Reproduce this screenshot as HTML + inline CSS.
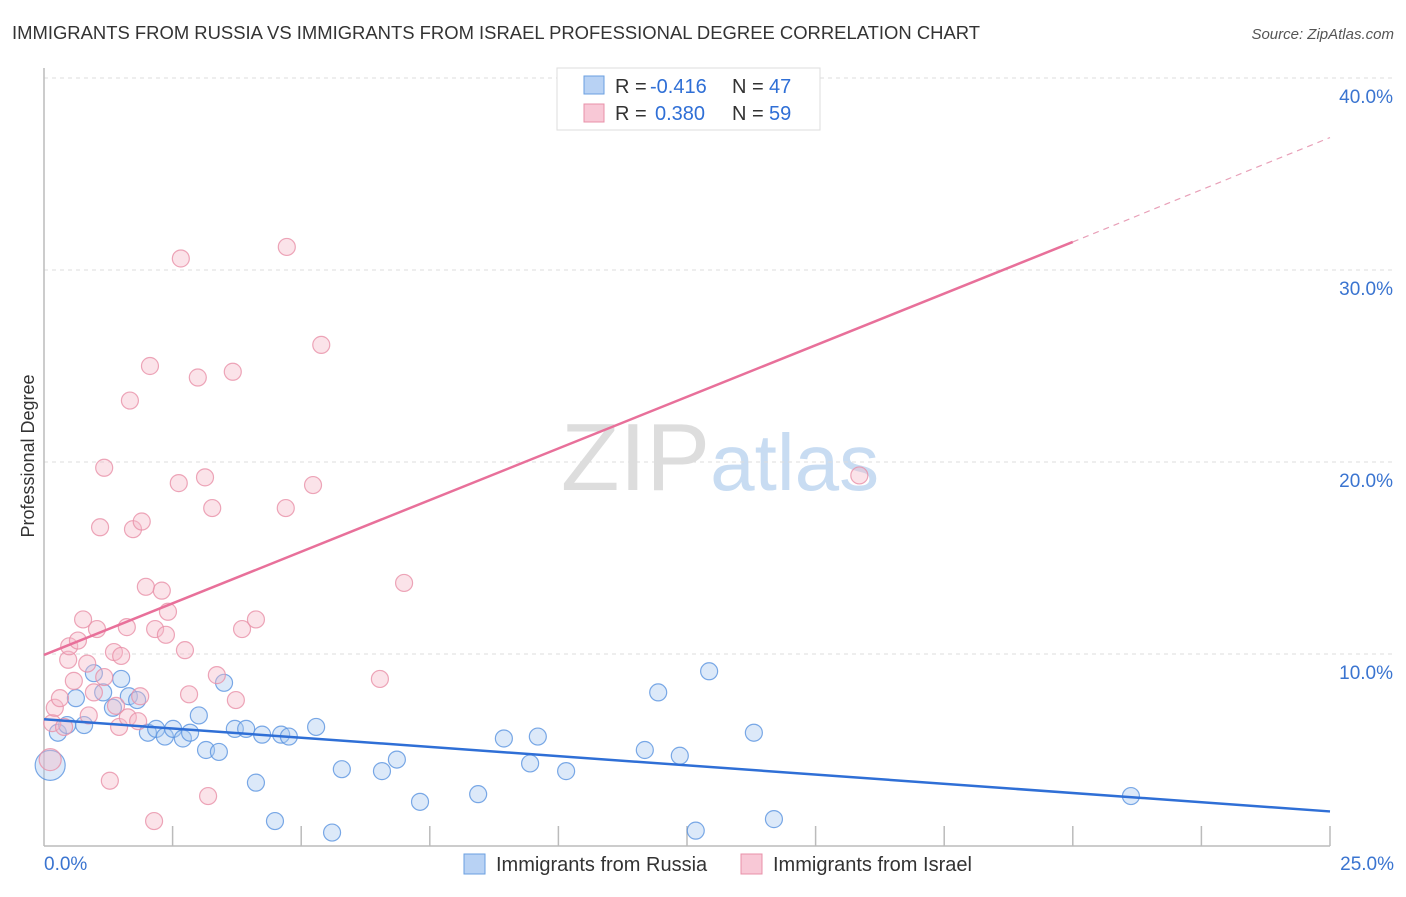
<!DOCTYPE html>
<html><head><meta charset="utf-8"><style>
body{margin:0;background:#fff;font-family:"Liberation Sans",sans-serif;}
svg text{font-family:"Liberation Sans",sans-serif;}
</style></head><body>
<svg id="c" width="1406" height="892">
<text x="12" y="39" font-size="18" fill="#333" textLength="968" lengthAdjust="spacingAndGlyphs">IMMIGRANTS FROM RUSSIA VS IMMIGRANTS FROM ISRAEL PROFESSIONAL DEGREE CORRELATION CHART</text>
<text x="1394" y="39" font-size="15" fill="#555" font-style="italic" text-anchor="end">Source: ZipAtlas.com</text>
<text x="34" y="456" font-size="18" fill="#333" transform="rotate(-90 34 456)" text-anchor="middle">Professional Degree</text>
<text x="720" y="490" font-size="96" fill="#ddd" text-anchor="middle" font-family="Liberation Serif">ZIP<tspan fill="#c8dcf2" font-family="Liberation Sans" font-size="80">atlas</tspan></text>
<g id="grid"></g><g id="pts"></g><g id="lines"></g>
<g>
<rect x="557" y="68" width="263" height="62" fill="#fff" stroke="#ddd"/>
<rect x="584" y="76" width="20" height="18" fill="#b8d2f4" stroke="#6a9fe0"/>
<rect x="584" y="104" width="20" height="18" fill="#f8c8d6" stroke="#e890a8"/>
<text x="615" y="93" font-size="20" fill="#333">R =</text>
<text x="650" y="93" font-size="20" fill="#2f6fd6">-0.416</text>
<text x="732" y="93" font-size="20" fill="#333">N =</text>
<text x="769" y="93" font-size="20" fill="#2f6fd6">47</text>
<text x="615" y="120" font-size="20" fill="#333">R =</text>
<text x="655" y="120" font-size="20" fill="#2f6fd6">0.380</text>
<text x="732" y="120" font-size="20" fill="#333">N =</text>
<text x="769" y="120" font-size="20" fill="#2f6fd6">59</text>
</g>
<g>
<rect x="464" y="854" width="21" height="20" fill="#b8d2f4" stroke="#6a9fe0"/>
<text x="496" y="871" font-size="20" fill="#333">Immigrants from Russia</text>
<rect x="741" y="854" width="21" height="20" fill="#f8c8d6" stroke="#e890a8"/>
<text x="773" y="871" font-size="20" fill="#333">Immigrants from Israel</text>
</g>
</svg>
<script>
const yTicks=[10,20,30,40];
const russiaX=[0.12,0.27,0.45,0.78,0.62,0.97,1.15,1.5,1.34,1.65,1.81,2.02,2.18,2.35,2.51,2.7,2.84,3.01,3.15,3.4,3.5,3.71,3.93,4.12,4.24,4.49,4.61,4.76,5.29,5.6,5.79,6.57,6.86,7.31,8.44,8.94,9.45,9.6,10.15,11.68,11.94,12.36,12.67,12.93,13.8,14.19,21.13];
const russiaY=[4.2,5.9,6.3,6.3,7.7,9.0,8.0,8.7,7.2,7.8,7.6,5.9,6.1,5.7,6.1,5.6,5.9,6.8,5.0,4.9,8.5,6.1,6.1,3.3,5.8,1.3,5.8,5.7,6.2,0.7,4.0,3.9,4.5,2.3,2.7,5.6,4.3,5.7,3.9,5.0,8.0,4.7,0.8,9.1,5.9,1.4,2.6];
const israelX=[0.12,0.16,0.21,0.31,0.39,0.47,0.49,0.58,0.66,0.76,0.84,0.87,0.97,1.03,1.09,1.17,1.17,1.28,1.36,1.4,1.46,1.5,1.61,1.63,1.67,1.73,1.83,1.87,1.9,1.98,2.06,2.14,2.16,2.29,2.37,2.41,2.62,2.66,2.74,2.82,2.99,3.13,3.19,3.27,3.36,3.67,3.73,3.85,4.12,4.7,4.72,5.23,5.39,6.53,7.0,15.85];
const israelY=[4.5,6.4,7.2,7.7,6.2,9.7,10.4,8.6,10.7,11.8,9.5,6.8,8.0,11.3,16.6,19.7,8.8,3.4,10.1,7.3,6.2,9.9,11.4,6.7,23.2,16.5,6.5,7.8,16.9,13.5,25.0,1.3,11.3,13.3,11.0,12.2,18.9,30.6,10.2,7.9,24.4,19.2,2.6,17.6,8.9,24.7,7.6,11.3,11.8,17.6,31.2,18.8,26.1,8.7,13.7,19.3];
const blueTrend=[[0,6.6],[25,1.8]];
const pinkTrend=[[0,9.95],[20,31.46]];
const pinkDash=[[20,31.46],[25,36.9]];
const X=v=>44+v*51.44, Y=v=>846-v*19.2;
const NS="http://www.w3.org/2000/svg";
function mk(tag,attrs,parent){const e=document.createElementNS(NS,tag);for(const k in attrs)e.setAttribute(k,attrs[k]);parent.appendChild(e);return e;}
const grid=document.getElementById('grid');
for(const t of yTicks){
 const l=mk('line',{x1:44,x2:1394,y1:Y(t),y2:Y(t),stroke:'#ddd','stroke-dasharray':'4,4'},grid);
 
 
 const tx=mk('text',{x:1393,y:Y(t)+25,'font-size':19,fill:'#3a74d0','text-anchor':'end'},grid);
 tx.textContent=t.toFixed(1)+'%';
 
 
}
mk('line',{x1:44,x2:44,y1:68,y2:846,stroke:'#bbb','stroke-width':1.5},grid);
mk('line',{x1:44,x2:1330,y1:846,y2:846,stroke:'#bbb','stroke-width':1.5},grid);
for(let i=1;i<=10;i++){mk('line',{x1:X(i*2.5),x2:X(i*2.5),y1:826,y2:846,stroke:'#bbb','stroke-width':1.5},grid);}
const x0=mk('text',{x:44,y:870,'font-size':19,fill:'#3a74d0'},grid);x0.textContent='0.0%';


const x1=mk('text',{x:1394,y:870,'font-size':19,fill:'#3a74d0','text-anchor':'end'},grid);x1.textContent='25.0%';


const pts=document.getElementById('pts');
function series(xs,ys,fill,stroke,name){
 xs.forEach((x,i)=>{
  const r=i===0?(name==='russia-point'?15:11):8.5;
  const c=mk('circle',{cx:X(x),cy:Y(ys[i]),r:r,fill:fill,'fill-opacity':0.4,stroke:stroke,'stroke-width':1.2,'stroke-opacity':0.8},pts);
  
  
 });
}
series(russiaX,russiaY,'#a8c8f0','#5a94e0','russia-point');
series(israelX,israelY,'#f5b8c8','#e890a8','israel-point');
const lines=document.getElementById('lines');
function ln(p,col,w,dash,name){
 const l=mk('line',{x1:X(p[0][0]),y1:Y(p[0][1]),x2:X(p[1][0]),y2:Y(p[1][1]),stroke:col,'stroke-width':w},lines);
 if(dash)l.setAttribute('stroke-dasharray',dash);
 
 
}
ln(blueTrend,'#2f6fd6',2.5,null,'russia-trend-line');
ln(pinkTrend,'#e8709a',2.5,null,'israel-trend-line');
ln(pinkDash,'#e8a0b8',1.2,'6,5','israel-trend-extension');
</script>
</body></html>
